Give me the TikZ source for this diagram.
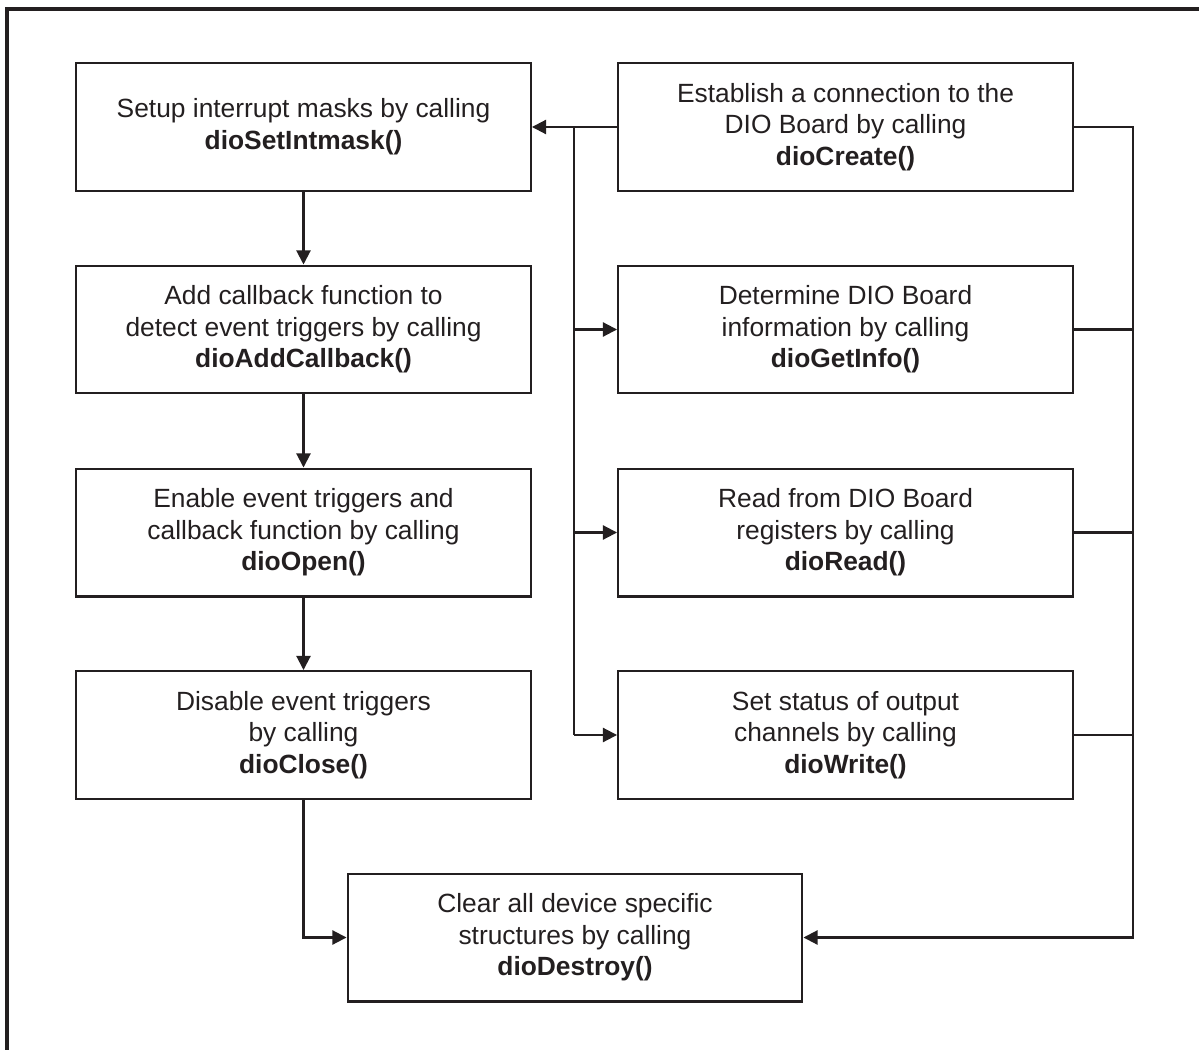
\documentclass[tikz,border=0pt]{standalone}
\usepackage{fontspec}
\setmainfont{Liberation Sans}
\usetikzlibrary{arrows.meta}
\definecolor{ink}{HTML}{231F20}
\begin{document}
\begin{tikzpicture}[x=0.02cm,y=-0.02cm,
  box/.style={draw=ink,line width=1.15pt,minimum width=9.1cm,minimum height=2.56cm,inner sep=0pt,align=center,font=\fontsize{15}{18}\selectfont,text=ink},
  conn/.style={draw=ink,line width=1.15pt},
  arr/.style={conn,-{Triangle[length=8pt,width=8pt]}}]
\useasboundingbox (0,0) rectangle (1199,1050);
\draw[ink,line width=2.5pt] (7,1050) -- (7,9) -- (1199,9);
\node[box] (l1) at (303.5,127) {Setup interrupt masks by calling\\\textbf{dioSetIntmask()}};
\node[box] (l2) at (303.5,329.5) {Add callback function to\\detect event triggers by calling\\\textbf{dioAddCallback()}};
\node[box] (l3) at (303.5,532.5) {Enable event triggers and\\callback function by calling\\\textbf{dioOpen()}};
\node[box] (l4) at (303.5,735) {Disable event triggers\\by calling\\\textbf{dioClose()}};
\node[box] (r1) at (845.5,127) {Establish a connection to the\\DIO Board by calling\\\textbf{dioCreate()}};
\node[box] (r2) at (845.5,329.5) {Determine DIO Board\\information by calling\\\textbf{dioGetInfo()}};
\node[box] (r3) at (845.5,532.5) {Read from DIO Board\\registers by calling\\\textbf{dioRead()}};
\node[box] (r4) at (845.5,735) {Set status of output\\channels by calling\\\textbf{dioWrite()}};
\node[box] (bot) at (575,937.5) {Clear all device specific\\structures by calling\\\textbf{dioDestroy()}};
\coordinate (j) at (574,127);
\coordinate (k) at (1133,127);
\draw[arr] (l1) -- (l2);
\draw[arr] (l2) -- (l3);
\draw[arr] (l3) -- (l4);
\draw[arr] (l4.south) |- (bot.west);
\draw[arr] (r1.west) -- (l1.east);
\draw[conn] (j) -- (j |- r4.west);
\draw[arr] (j |- r2.west) -- (r2.west);
\draw[arr] (j |- r3.west) -- (r3.west);
\draw[arr] (j |- r4.west) -- (r4.west);
\draw[arr] (r1.east) -| (k |- bot.east) -- (bot.east);
\draw[conn] (r2.east) -- (k |- r2.east);
\draw[conn] (r3.east) -- (k |- r3.east);
\draw[conn] (r4.east) -- (k |- r4.east);
\end{tikzpicture}
\end{document}
